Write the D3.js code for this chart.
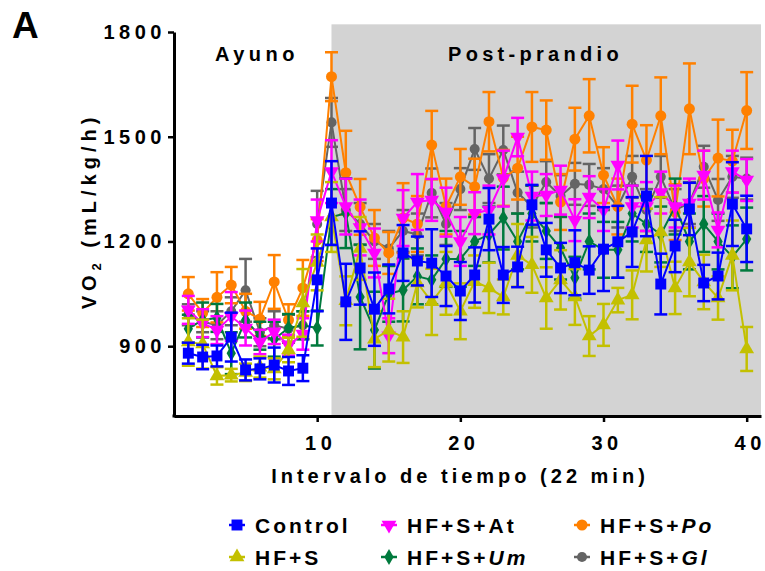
<!DOCTYPE html>
<html><head><meta charset="utf-8">
<script src="https://cdn.jsdelivr.net/npm/d3@7"></script>
<style>
body{margin:0;background:#fff}
text{font-family:"Liberation Sans",Arial,sans-serif;font-weight:bold;fill:#000}
</style>
</head><body>
<svg id="chart" width="765" height="571"></svg>
<script>
// ---- data ----
const intervals = [1,2,3,4,5,6,7,8,9,10,11,12,13,14,15,16,17,18,19,20,21,22,23,24,25,26,27,28,29,30,31,32,33,34,35,36,37,38,39,40];
const xTicks = [10,20,30,40];
const yTicks = [900,1200,1500,1800];

const controlMean = [880,869,872,926,832,835,846,829,837,1090,1310,1027,1124,1006,1064,1167,1144,1138,1101,1058,1104,1264,1104,1127,1305,1176,1124,1139,1118,1178,1199,1227,1330,1078,1187,1293,1081,1101,1307,1236];
const controlErr  = [30,35,30,70,30,30,50,40,37,90,120,109,105,105,70,80,70,97,86,83,79,89,80,58,57,77,72,93,68,120,103,100,115,87,75,75,52,67,120,95];

const hfsMean = [912,906,815,817,825,840,835,889,1024,1140,1270,1030,1180,920,946,926,1081,1027,1080,1000,1085,1067,1041,1160,1133,1038,1090,1041,929,961,1032,1047,1204,1227,1067,1141,1084,1038,1160,892];
const hfsErr  = [68,70,25,18,25,30,30,35,97,80,100,70,90,80,90,74,70,95,90,80,75,72,50,90,80,88,85,80,57,60,35,70,90,100,75,98,78,62,100,63];

const atMean = [1004,966,946,985,952,912,941,903,935,1260,1400,1300,1240,1167,930,1267,1313,1319,1284,1200,1281,1290,1380,1499,1330,1333,1347,1261,1327,1290,1419,1300,1300,1340,1300,1310,1390,1233,1400,1376];
const atErr  = [40,40,40,70,50,35,35,30,45,60,90,80,80,70,50,80,80,60,70,70,60,70,80,55,70,60,70,60,60,60,70,60,70,60,60,70,70,50,60,60];

const umMean = [950,975,981,880,975,930,920,952,960,952,1270,1281,1041,946,1050,1061,1100,1090,1150,1150,1200,1220,1267,1200,1280,1230,1181,1096,1200,1176,1176,1280,1250,1220,1300,1200,1250,1200,1156,1207];
const umErr  = [40,50,40,60,50,40,50,40,40,50,80,100,150,110,80,90,80,70,80,80,70,80,90,80,80,80,90,60,80,80,80,80,80,80,80,80,80,80,90,90];

const poMean = [1050,995,1040,1075,1000,978,1084,975,1067,1204,1672,1397,1299,1210,1167,1267,1250,1476,1300,1385,1357,1543,1382,1410,1528,1519,1313,1493,1560,1390,1300,1536,1433,1560,1284,1580,1380,1439,1430,1575];
const poErr  = [48,40,72,52,50,49,77,45,80,60,70,120,80,80,60,100,80,98,80,80,80,85,80,90,100,85,80,90,105,80,80,110,100,110,80,130,80,110,90,110];

const glMean = [990,970,960,1000,1060,940,960,950,960,1250,1541,1290,1250,1200,1180,1230,1220,1339,1250,1350,1465,1380,1462,1340,1300,1370,1330,1365,1362,1350,1300,1385,1290,1385,1290,1310,1414,1319,1385,1380];
const glErr  = [30,30,40,40,90,40,40,40,40,95,70,60,60,50,50,60,60,70,60,60,60,70,70,60,60,60,60,60,60,60,60,60,60,60,60,60,60,60,60,60];

const seriesNames = ["Control","HF+S","HF+S+At","HF+S+Um","HF+S+Po","HF+S+Gl"];
const phaseLabels = ["Ayuno","Post-prandio"];
const postStart = 11;

// ---- styling ----
const series = [
  {name:"HF+S+Gl", mean:glMean, err:glErr, color:"#646464", sym:d3.symbolCircle, size:80, rot:0, base:"HF+S+", it:"Gl"},
  {name:"HF+S+Po", mean:poMean, err:poErr, color:"#ff8000", sym:d3.symbolCircle, size:95, rot:0, base:"HF+S+", it:"Po"},
  {name:"HF+S+Um", mean:umMean, err:umErr, color:"#007a3d", sym:d3.symbolDiamond, size:75, rot:0, base:"HF+S+", it:"Um"},
  {name:"HF+S+At", mean:atMean, err:atErr, color:"#ff00ff", sym:d3.symbolTriangle, size:95, rot:180, base:"HF+S+At", it:""},
  {name:"HF+S",    mean:hfsMean, err:hfsErr, color:"#c3c000", sym:d3.symbolTriangle, size:95, rot:0, base:"HF+S", it:""},
  {name:"Control", mean:controlMean, err:controlErr, color:"#0000ff", sym:d3.symbolSquare, size:120, rot:0, base:"Control", it:""}
];

const svg = d3.select("#chart");
const x = d3.scaleLinear().domain([0,41]).range([174,761]);
const y = d3.scaleLinear().domain([700,1800]).range([416,32]);

// shaded post-prandial region
svg.append("rect")
  .attr("x", x(postStart)).attr("width", x(41)-x(postStart))
  .attr("y", y(1822)).attr("height", y(700)-y(1822))
  .attr("fill","#d3d3d3");

// phase labels
svg.append("text").attr("x",215).attr("y",61).attr("font-size",20).attr("letter-spacing",4.5).text(phaseLabels[0]);
svg.append("text").attr("x",448).attr("y",61).attr("font-size",20).attr("letter-spacing",4.3).text(phaseLabels[1]);

// series
series.forEach(s=>{
  const g = svg.append("g");
  const pts = intervals.map((t,i)=>({t, m:s.mean[i], e:s.err[i]}));
  g.append("path").datum(pts)
    .attr("fill","none").attr("stroke",s.color).attr("stroke-width",2)
    .attr("d", d3.line().x(d=>x(d.t)).y(d=>y(d.m)));
  const eb = g.selectAll(".eb").data(pts).enter().append("g");
  eb.append("line").attr("x1",d=>x(d.t)).attr("x2",d=>x(d.t))
    .attr("y1",d=>y(d.m-d.e)).attr("y2",d=>y(d.m+d.e))
    .attr("stroke",s.color).attr("stroke-width",2.5);
  [1,-1].forEach(sg=>{
    eb.append("line").attr("x1",d=>x(d.t)-6.5).attr("x2",d=>x(d.t)+6.5)
      .attr("y1",d=>y(d.m+sg*d.e)).attr("y2",d=>y(d.m+sg*d.e))
      .attr("stroke",s.color).attr("stroke-width",2.5);
  });
  g.selectAll(".pt").data(pts).enter().append("path")
    .attr("d", d3.symbol().type(s.sym).size(s.size))
    .attr("transform", d=>`translate(${x(d.t)},${y(d.m)}) rotate(${s.rot})`)
    .attr("fill", s.color);
});

// axes
const yAxis = svg.append("g").attr("transform","translate(174,0)")
  .call(d3.axisLeft(y).tickValues(yTicks).tickFormat(d3.format("d")).tickSize(6).tickSizeOuter(0).tickPadding(6));
const xAxis = svg.append("g").attr("transform","translate(0,416)")
  .call(d3.axisBottom(x).tickValues(xTicks).tickFormat(d3.format("d")).tickSize(6).tickSizeOuter(0).tickPadding(14));
[yAxis,xAxis].forEach(a=>{
  a.select(".domain").attr("stroke","#000").attr("stroke-width",3);
  a.selectAll(".tick line").attr("stroke","#000").attr("stroke-width",2.5);
  a.selectAll(".tick text").attr("font-size",20).attr("font-family","Liberation Sans, Arial, sans-serif")
    .attr("font-weight","bold").attr("fill","#000").attr("letter-spacing",4.5);
});
yAxis.selectAll(".tick text").attr("dx",4);
xAxis.selectAll(".tick text").attr("dx",3);
// corner join
svg.append("line").attr("x1",172.5).attr("x2",176).attr("y1",416).attr("y2",416).attr("stroke","#000").attr("stroke-width",3);

// axis titles
svg.append("text").attr("x",460).attr("y",483).attr("text-anchor","middle")
  .attr("font-size",20).attr("letter-spacing",4).text("Intervalo de tiempo (22 min)");
const yt = svg.append("text").attr("transform","translate(96,211) rotate(-90)")
  .attr("text-anchor","middle").attr("font-size",20).attr("letter-spacing",5);
yt.append("tspan").text("VO");
yt.append("tspan").attr("font-size",13).attr("dy",5).text("2");
yt.append("tspan").attr("dy",-5).text(" (mL/kg/h)");

// panel letter
svg.append("text").attr("x",12).attr("y",38).attr("font-size",37).text("A");

// legend
const legendOrder = ["Control","HF+S+At","HF+S+Po","HF+S","HF+S+Um","HF+S+Gl"];
const colX = [237,389,582], rowY = [525,557];
legendOrder.forEach((nm,i)=>{
  const s = series.find(d=>d.name===nm);
  const cx = colX[i%3], cy = rowY[Math.floor(i/3)];
  svg.append("line").attr("x1",cx-8).attr("x2",cx+8).attr("y1",cy).attr("y2",cy)
    .attr("stroke",s.color).attr("stroke-width",2.5);
  svg.append("path").attr("d",d3.symbol().type(s.sym).size(s.size))
    .attr("transform",`translate(${cx},${cy}) rotate(${s.rot})`).attr("fill",s.color);
  const t = svg.append("text").attr("x",cx+18).attr("y",cy+8).attr("font-size",21).attr("letter-spacing",3);
  t.append("tspan").text(s.base);
  if(s.it) t.append("tspan").attr("font-style","italic").text(s.it);
});
</script>
</body></html>
